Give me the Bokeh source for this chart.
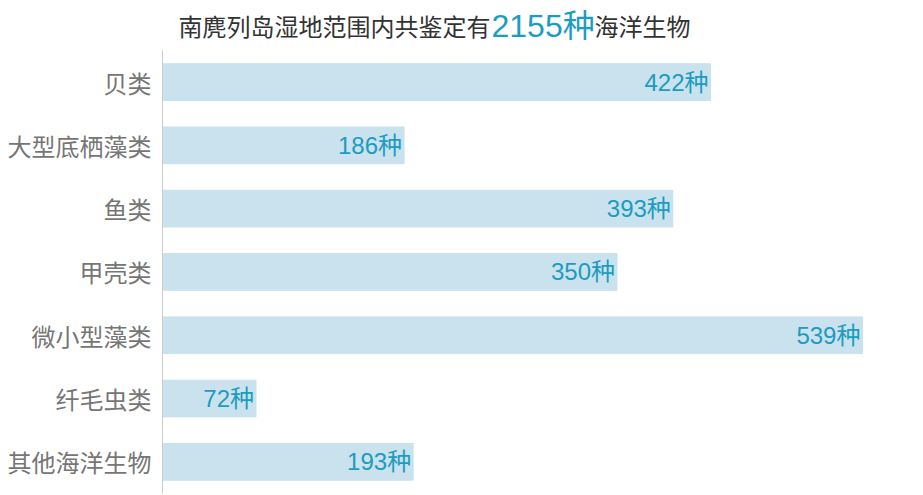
from bokeh.plotting import figure
from bokeh.models import Range1d, Label, ColumnDataSource, FixedTicker
from bokeh.embed import file_html
from bokeh.resources import INLINE
from bokeh.core.properties import value

categories = ["贝类", "大型底栖藻类", "鱼类", "甲壳类", "微小型藻类", "纤毛虫类", "其他海洋生物"]
counts = [422, 186, 393, 350, 539, 72, 193]
unit = "种"
title_parts = ["南麂列岛湿地范围内共鉴定有", "2155种", "海洋生物"]

CJK = "Noto Sans CJK SC"
MIX = "Liberation Sans, Noto Sans CJK SC"
BAR = "#c9e2ed"
TEAL = "#1b9cc0"

n = len(categories)
ypos = [n - 1 - i for i in range(n)]
src = ColumnDataSource(dict(y=ypos, n=counts, lab=[f"{c}{unit}" for c in counts]))

H = 495
bottom_border = 2
fh = H - bottom_border
step = 63.3
y_end = -0.5 + fh / step

p = figure(width=923, height=H, output_backend="svg", toolbar_location=None,
           y_range=Range1d(-0.5, y_end), x_range=Range1d(0, 586),
           min_border_left=162, min_border_right=0, min_border_top=0,
           min_border_bottom=bottom_border,
           outline_line_color=None, background_fill_color="white", border_fill_color="white")

p.hbar(y="y", right="n", left=0, height=0.58, color=BAR, source=src)
p.text(x="n", y="y", text="lab", source=src, text_align="right", text_baseline="middle",
       x_offset=-2, text_font=value(MIX), text_font_size="24px", text_color=TEAL)

p.xaxis.visible = False
p.xgrid.visible = False
p.ygrid.visible = False
ax = p.yaxis[0]
ax.ticker = FixedTicker(ticks=ypos)
ax.major_label_overrides = {y: c for y, c in zip(ypos, categories)}
ax.bounds = (-0.5, n - 0.5)
ax.axis_line_color = "#cccccc"
ax.axis_line_width = 1
ax.major_tick_line_color = None
ax.minor_tick_line_color = None
ax.major_tick_out = 0
ax.major_tick_in = 0
ax.major_label_standoff = 11
ax.major_label_text_font = CJK
ax.major_label_text_font_size = "24px"
ax.major_label_text_color = "#767676"

# title in pieces (screen units relative to frame bottom-left)
ty = fh - 25
p.add_layout(Label(x=16, y=ty, x_units="screen", y_units="screen", text=title_parts[0],
                   text_font=CJK, text_font_size="24px", text_color="#333333",
                   text_baseline="alphabetic", text_align="left"))
p.add_layout(Label(x=329, y=ty, x_units="screen", y_units="screen", text=title_parts[1],
                   text_font=MIX, text_font_size="32px", text_color=TEAL,
                   text_baseline="alphabetic", text_align="left"))
p.add_layout(Label(x=432, y=ty, x_units="screen", y_units="screen", text=title_parts[2],
                   text_font=CJK, text_font_size="24px", text_color="#333333",
                   text_baseline="alphabetic", text_align="left"))

open("out.html", "w").write(file_html(p, INLINE))
